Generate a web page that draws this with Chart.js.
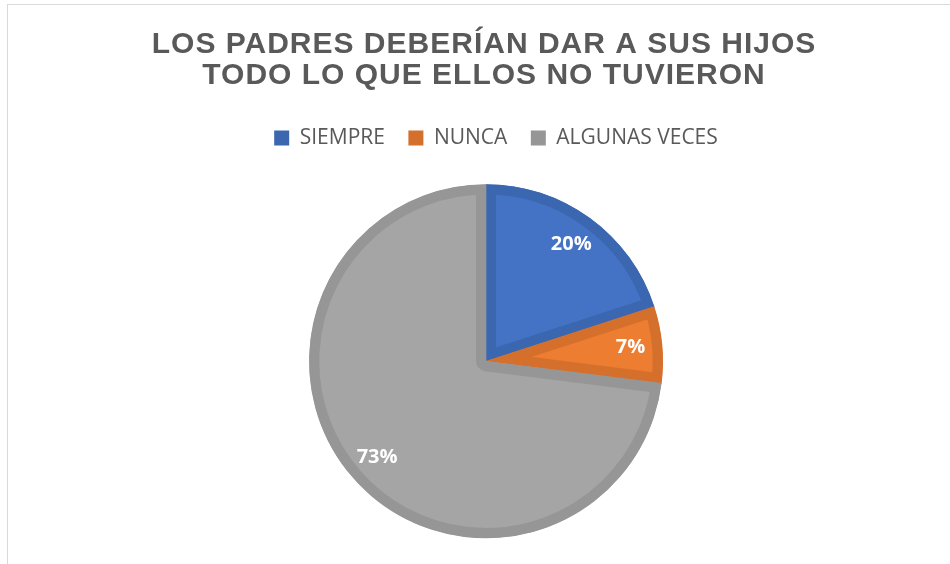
<!DOCTYPE html>
<html>
<head>
<meta charset="utf-8">
<script src="https://cdn.jsdelivr.net/npm/chart.js@4.4.1/dist/chart.umd.min.js"></script>
<style>
  html, body { margin: 0; padding: 0; background: #ffffff; overflow: hidden; }
  #frame { position: absolute; left: 7px; top: 4px; width: 1000px; height: 700px;
           border: 1px solid #d9d9d9; box-sizing: border-box; }
  #wrap { position: absolute; left: 0; top: 0; width: 950px; height: 564px; }
</style>
</head>
<body>
<div id="frame"></div>
<div id="wrap"><canvas id="chart" width="950" height="564"></canvas></div>
<script>
// Chart text and values
const titleLines = ['LOS PADRES DEBERÍAN DAR A SUS HIJOS', 'TODO LO QUE ELLOS NO TUVIERON'];
const categories = ['SIEMPRE', 'NUNCA', 'ALGUNAS VECES'];
const percentages = [20, 7, 73];

// Slice colours: fill and the darker outline of the same hue
const fillColors = ['#4472C4', '#ED7D31', '#A5A5A5'];
const edgeColors = ['#3B66B0', '#D5702C', '#969696'];

const textGrey = '#595959';

// Two-line spaced title drawn at the top of the canvas
const titlePlugin = {
  id: 'spacedTitle',
  afterDraw(chart) {
    const ctx = chart.ctx;
    ctx.save();
    ctx.font = 'bold 30px "Liberation Sans", Arial, sans-serif';
    ctx.letterSpacing = '1px';
    ctx.fillStyle = textGrey;
    ctx.textAlign = 'center';
    ctx.textBaseline = 'middle';
    const cx = 484;
    titleLines.forEach((line, i) => ctx.fillText(line, cx, 45 + i * 31));
    ctx.restore();
  }
};

// Nudge the legend row a little to the right of its centred spot
const legendNudge = {
  id: 'legendNudge',
  beforeDraw(chart) {
    chart.ctx.save();
    chart.ctx.translate(10, 0);
  },
  beforeDatasetsDraw(chart) {
    chart.ctx.restore();
  }
};

// Percentage labels placed along each slice's middle angle
const sliceLabels = {
  id: 'sliceLabels',
  afterDatasetsDraw(chart) {
    const ctx = chart.ctx;
    const meta = chart.getDatasetMeta(0);
    ctx.save();
    ctx.font = 'bold 20px "Open Sans", sans-serif';
    ctx.fillStyle = '#ffffff';
    ctx.textAlign = 'center';
    ctx.textBaseline = 'middle';
    meta.data.forEach((arc, i) => {
      const p = arc.getProps(['x', 'y', 'startAngle', 'endAngle', 'outerRadius'], true);
      const mid = (p.startAngle + p.endAngle) / 2;
      const r = p.outerRadius * 0.82;
      ctx.fillText(percentages[i] + '%', p.x + Math.cos(mid) * r, p.y + Math.sin(mid) * r);
    });
    ctx.restore();
  }
};

new Chart(document.getElementById('chart'), {
  type: 'pie',
  data: {
    labels: categories,
    datasets: [{
      data: percentages,
      backgroundColor: fillColors,
      borderColor: edgeColors,
      borderWidth: 10,
      borderAlign: 'inner',
      radius: 177,
      offset: 0,
      hoverOffset: 0
    }]
  },
  options: {
    responsive: false,
    devicePixelRatio: 1,
    animation: false,
    events: [],
    layout: { padding: { top: 104, left: 22, right: 0, bottom: -7 } },
    plugins: {
      title: { display: false },
      tooltip: { enabled: false },
      legend: {
        position: 'top',
        labels: {
          boxWidth: 15,
          boxHeight: 15,
          padding: 23.5,
          color: textGrey,
          font: { family: '"Open Sans", sans-serif', size: 21 },
          generateLabels: () => categories.map((c, i) => ({
            text: c,
            fillStyle: edgeColors[i],
            strokeStyle: edgeColors[i],
            lineWidth: 0,
            fontColor: textGrey,
            hidden: false,
            index: i
          }))
        }
      }
    }
  },
  plugins: [legendNudge, titlePlugin, sliceLabels]
});
</script>
</body>
</html>
